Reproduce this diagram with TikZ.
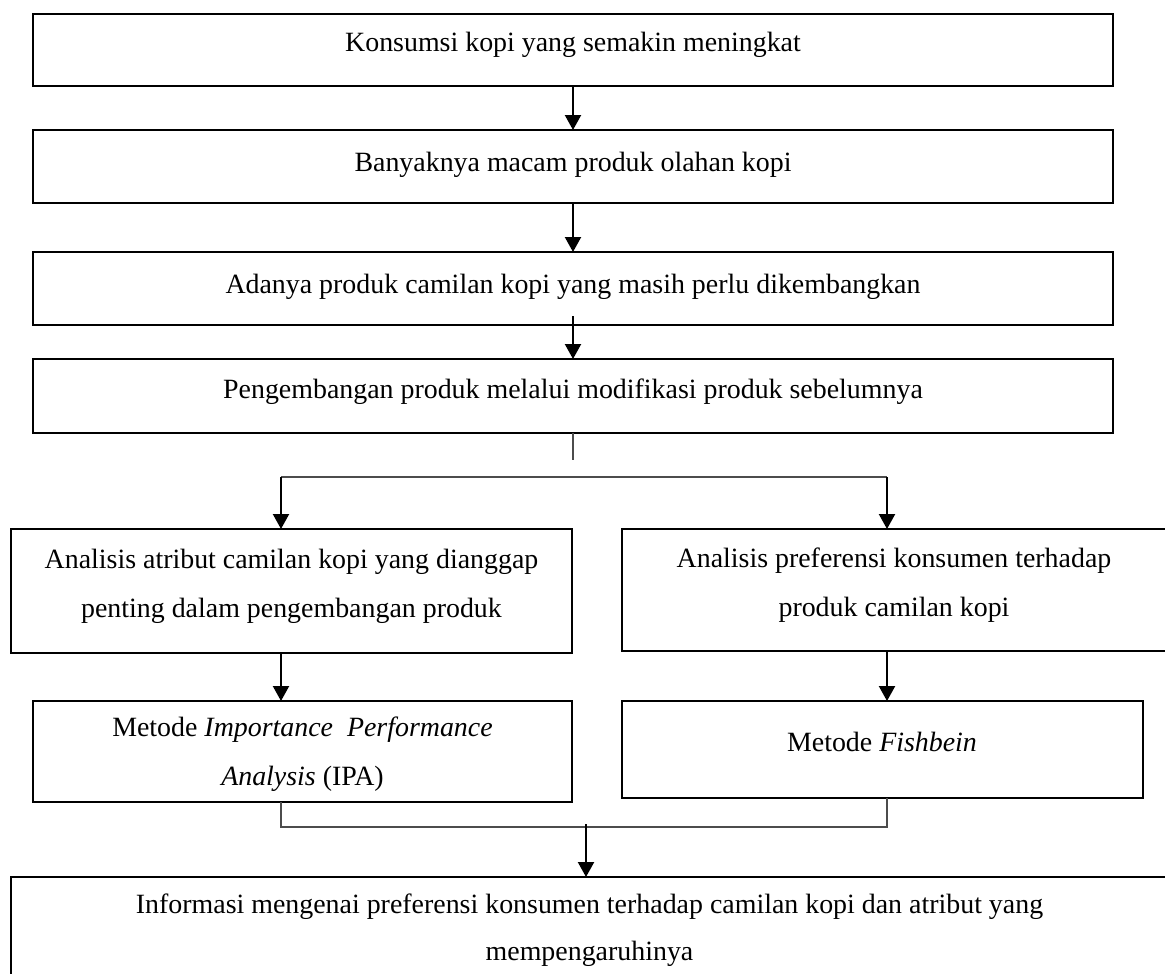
\documentclass[tikz,border=0pt]{standalone}
\usepackage{fontspec}
\setmainfont{Liberation Serif}
\usetikzlibrary{arrows.meta}
\begin{document}
\begin{tikzpicture}[x=1pt,y=-1pt,
  box/.style={draw=black, line width=2.6pt, inner sep=0pt, outer sep=0pt, anchor=north west},
  txt/.style={font=\fontsize{27.9}{49}\selectfont, align=center, anchor=base, inner sep=0pt},
  arr/.style={line width=2.2pt, -{Triangle[length=15pt,width=16pt]}},
  gline/.style={line width=1.4pt, draw=black!70}]
\useasboundingbox (0,0) rectangle (1165,974);
\clip (0,0) rectangle (1165,974);
\fill[white] (0,0) rectangle (1165,974);

% boxes
\node[box, minimum width=1080pt, minimum height=72pt] (b1) at (33,14) {};
\node[box, minimum width=1080pt, minimum height=73pt] (b2) at (33,130) {};
\node[box, minimum width=1080pt, minimum height=73pt] (b3) at (33,252) {};
\node[box, minimum width=1080pt, minimum height=74pt] (b4) at (33,359) {};
\node[box, minimum width=561pt, minimum height=124pt] (b5L) at (11,529) {};
\node[box, minimum width=546pt, minimum height=122pt] (b5R) at (622,529) {};
\node[box, minimum width=539pt, minimum height=101pt] (b6L) at (33,701) {};
\node[box, minimum width=521pt, minimum height=97pt] (b6R) at (622,701) {};
\node[box, minimum width=1157pt, minimum height=123pt] (b7) at (11,877) {};

% texts (base anchor of a two-line node = baseline of its last line)
\node[txt] (t1) at (573,52) {Konsumsi kopi yang semakin meningkat};
\node[txt] (t2) at (573,171) {Banyaknya macam produk olahan kopi};
\node[txt] (t3) at (573,293) {Adanya produk camilan kopi yang masih perlu dikembangkan};
\node[txt] (t4) at (573,398) {Pengembangan produk melalui modifikasi produk sebelumnya};
\node[txt] (t5L) at (291.5,617) {Analisis atribut camilan kopi yang dianggap\\penting dalam pengembangan produk};
\node[txt] (t5R) at (894,616) {Analisis preferensi konsumen terhadap\\produk camilan kopi};
\node[txt] (t6L) at (302.5,785) {Metode \textit{Importance\ \ Performance}\\\textit{Analysis} (IPA)};
\node[txt] (t6R) at (882,751) {Metode \textit{Fishbein}};
\node[txt, font=\fontsize{27.9}{47}\selectfont] (t7) at (589.5,960) {Informasi mengenai preferensi konsumen terhadap camilan kopi dan atribut yang\\mempengaruhinya};

% connectors
\draw[arr] (b1) -- (b2);
\draw[arr] (b2) -- (b3);
\draw[arr] ([yshift=9pt]b3.south) -- (b4.north);

\coordinate (s4) at (573,460);
\draw[gline] (b4.south) -- (s4);
\coordinate (jL) at (281,477);
\coordinate (jR) at (887,477);
\draw[gline] (jL) -- (jR);
\draw[arr] (jL) -- (jL |- b5L.north);
\draw[arr] (jR) -- (jR |- b5R.north);
\draw[arr] (jL |- b5L.south) -- (jL |- b6L.north);
\draw[arr] (jR |- b5R.south) -- (jR |- b6R.north);

\coordinate (mL) at (281,827);
\coordinate (mR) at (887,827);
\draw[gline] (jL |- b6L.south) -- (mL) -- (mR) -- (jR |- b6R.south);
\coordinate (m7) at (586,824);
\draw[arr] (m7) -- (m7 |- b7.north);
\end{tikzpicture}
\end{document}
